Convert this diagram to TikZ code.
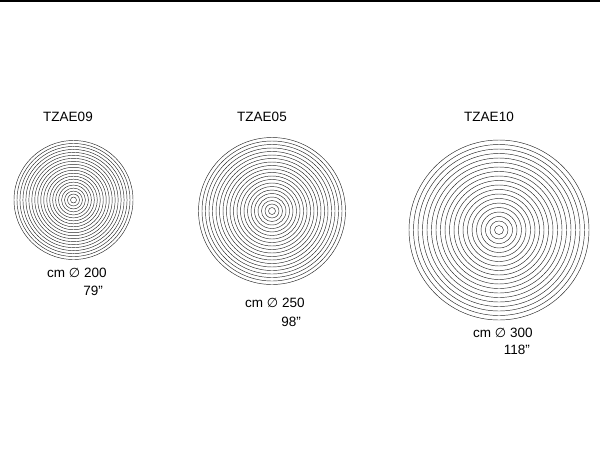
\documentclass[tikz,border=0pt]{standalone}
\usepackage{fontspec}
\setmainfont{Liberation Sans}
\newfontfamily\diafont{DejaVu Sans}
\newcommand{\dia}{{\diafont\fontsize{13}{15}\selectfont ∅}}

\begin{document}
\begin{tikzpicture}[x=1pt, y=-1pt, font=\fontsize{13.5}{16}\selectfont,
  lbl/.style={inner sep=0pt},
  ring/.style={line width=0.45pt, draw=black!85}]
\useasboundingbox (0,0) rectangle (600,451);
\coordinate (L) at (0,0.8);
\coordinate (R) at (600,0.8);
\draw[line width=1.6pt] (L) -- (R);

% TZAE09
\path (68,117) node[lbl] (T1) {TZAE09};
\coordinate (C1) at (73.5,200);
\foreach \k in {1,...,20}
  \draw[ring] (C1) circle ({59.5*\k/20});
\path (47,273) node[lbl, anchor=west] (D1) {cm \dia\ 200};
\path (103,291) node[lbl, anchor=east] (I1) {79”};

% TZAE05
\path (262,117) node[lbl] (T2) {TZAE05};
\coordinate (C2) at (272,211);
\foreach \k in {1,...,21}
  \draw[ring] (C2) circle ({73.5*\k/21});
\path (245,303) node[lbl, anchor=west] (D2) {cm \dia\ 250};
\path (301,322) node[lbl, anchor=east] (I2) {98”};

% TZAE10
\path (489,117) node[lbl] (T3) {TZAE10};
\coordinate (C3) at (499,230);
\foreach \k in {1,...,20}
  \draw[ring] (C3) circle ({90*\k/20});
\path (473,333) node[lbl, anchor=west] (D3) {cm \dia\ 300};
\path (530,350) node[lbl, anchor=east] (I3) {118”};
\end{tikzpicture}
\end{document}
